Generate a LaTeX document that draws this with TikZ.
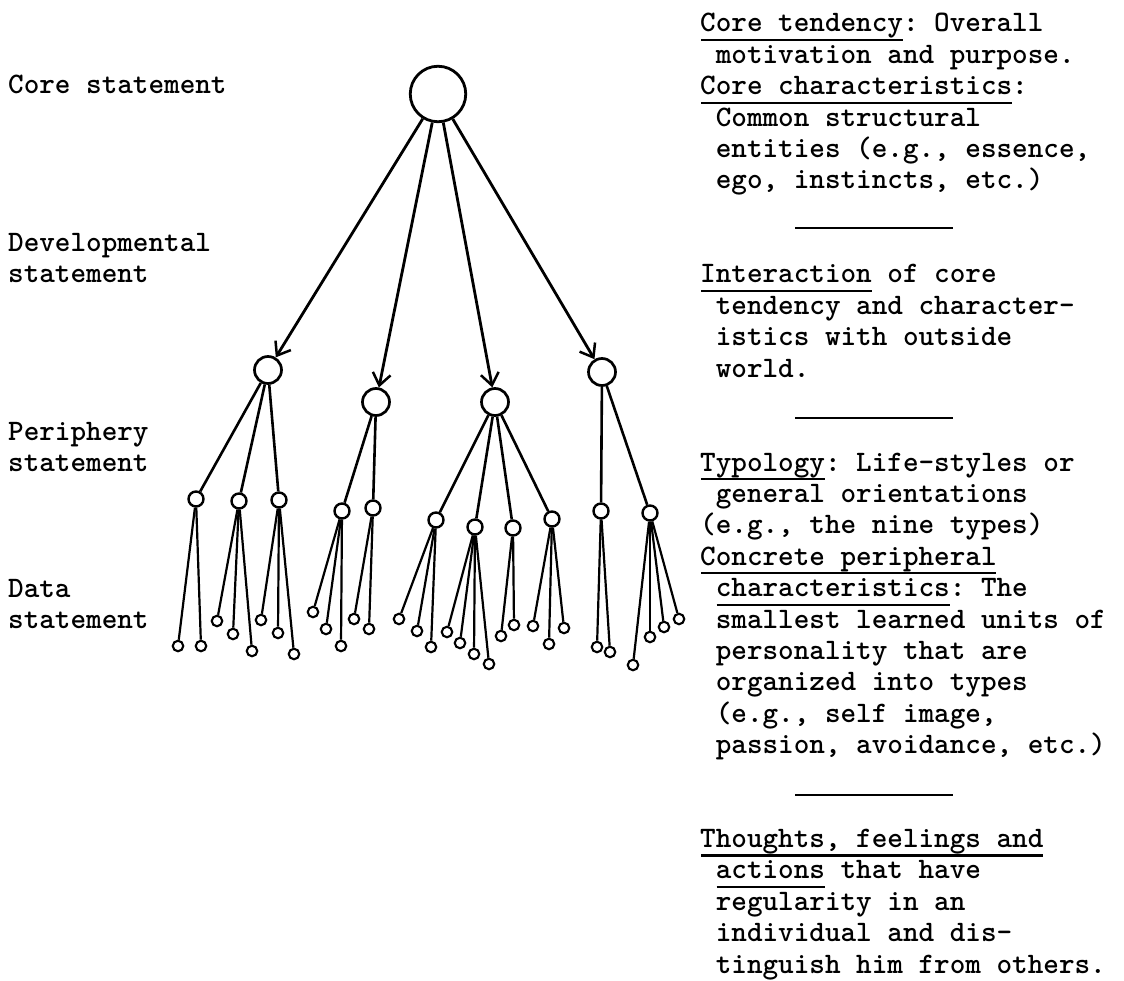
\documentclass[tikz,border=0pt]{standalone}
\usetikzlibrary{arrows.meta}
\newlength\chw
\begin{document}
\settowidth\chw{\fontsize{12}{14}\selectfont\ttfamily\bfseries x}%
\pgfmathsetmacro\fsz{12*15.6/\chw}%
\begin{tikzpicture}[x=1pt,y=-1pt,
  rootc/.style={circle,draw,line width=2.8pt,minimum size=55.5pt,inner sep=0pt},
  devc/.style={circle,draw,line width=2.7pt,minimum size=27pt,inner sep=0pt},
  perc/.style={circle,draw,line width=2.4pt,minimum size=15pt,inner sep=0pt},
  leafc/.style={circle,draw,line width=2.1pt,minimum size=10.5pt,inner sep=0pt},
  arr/.style={line width=2.8pt,-{Straight Barb[length=12pt,width=18pt,line width=2.5pt]}},
  branch/.style={line width=2.6pt},
  twig/.style={line width=2.2pt},
  uline/.style={line width=2.3pt},
  sep/.style={line width=2.7pt},
  txt/.style={font=\fontsize{\fsz}{31.37}\selectfont\ttfamily\bfseries\frenchspacing,anchor=base west,inner sep=0pt}]
\fill[white] (0,0) rectangle (1124,981);
\useasboundingbox (0,0) rectangle (1124,981);

% left labels
\node[txt] (lcore) at (8,94) {Core statement};
\node[txt] (ldev1) at (8,252) {Developmental};
\node[txt] (ldev2) at (8,283) {statement};
\node[txt] (lper1) at (8,440) {Periphery};
\node[txt] (lper2) at (8,471) {statement};
\node[txt] (ldat1) at (8,597) {Data};
\node[txt] (ldat2) at (8,628) {statement};

% right column
\foreach \n/\ind/\t in {
  1/0/{Core tendency: Overall},
  2/1/{motivation and purpose.},
  3/0/{Core characteristics:},
  4/1/{Common structural},
  5/1/{entities (e.g., essence,},
  6/1/{ego, instincts, etc.)},
  9/0/{Interaction of core},
  10/1/{tendency and character-},
  11/1/{istics with outside},
  12/1/{world.},
  15/0/{Typology: Life-styles or},
  16/1/{general orientations},
  17/0/{(e.g., the nine types)},
  18/0/{Concrete peripheral},
  19/1/{characteristics: The},
  20/1/{smallest learned units of},
  21/1/{personality that are},
  22/1/{organized into types},
  23/1/{(e.g., self image,},
  24/1/{passion, avoidance, etc.)},
  27/0/{Thoughts, feelings and},
  28/1/{actions that have},
  29/1/{regularity in an},
  30/1/{individual and dis-},
  31/1/{tinguish him from others.}}
  {\node[txt] (r\n) at ({700+\ind*15.6},{32+(\n-1)*31.37}) {\t};}

% underlines
\foreach \n/\ind/\len in {1/0/13,3/0/20,9/0/11,15/0/8,18/0/19,19/1/15,27/0/22,28/1/7}
  {\draw[uline] ({701+\ind*15.6},{40+(\n-1)*31.37}) -- ({700+(\ind+\len)*15.6},{40+(\n-1)*31.37});}

% separators
\draw[sep] (795,228) -- (953,228);
\draw[sep] (795,418) -- (953,418);
\draw[sep] (795,795) -- (953,795);

% tree
\node[rootc] (root) at (438,94) {};
\node[devc] (d1) at (268,370) {};
\node[devc] (d2) at (376,402) {};
\node[devc] (d3) at (495,402) {};
\node[devc] (d4) at (602,372) {};
\foreach \d in {d1,d2,d3,d4} {\draw[arr] (root) -- (\d);}

\foreach \pa/\nm/\x/\y in {d1/p1/196/499, d1/p2/239/501, d1/p3/279/500,
  d2/p4/342/511, d2/p5/373/508,
  d3/p6/436/520, d3/p7/475/527, d3/p8/513/528, d3/p9/552/519,
  d4/p10/601/511, d4/p11/650/513}
  {\node[perc] (\nm) at (\x,\y) {}; \draw[branch] (\pa) -- (\nm);}

\foreach \pa/\nm/\x/\y in {
  p1/l1/178/646, p1/l2/201/646,
  p2/l3/217/621, p2/l4/233/634, p2/l5/252/651,
  p3/l6/261/620, p3/l7/278/633, p3/l8/294/654,
  p4/l9/313/612, p4/l10/326/629, p4/l11/341/646,
  p5/l12/354/619, p5/l13/369/629,
  p6/l14/399/619, p6/l15/417/631, p6/l16/431/647,
  p7/l17/447/632, p7/l18/460/643, p7/l19/474/654, p7/l20/489/664,
  p8/l21/501/636, p8/l22/514/625,
  p9/l23/533/626, p9/l24/549/644, p9/l25/564/628,
  p10/l26/597/647, p10/l27/610/652,
  p11/l28/633/665, p11/l29/650/637, p11/l30/664/627, p11/l31/679/619}
  {\node[leafc] (\nm) at (\x,\y) {}; \draw[twig] (\pa) -- (\nm);}
\end{tikzpicture}
\end{document}
